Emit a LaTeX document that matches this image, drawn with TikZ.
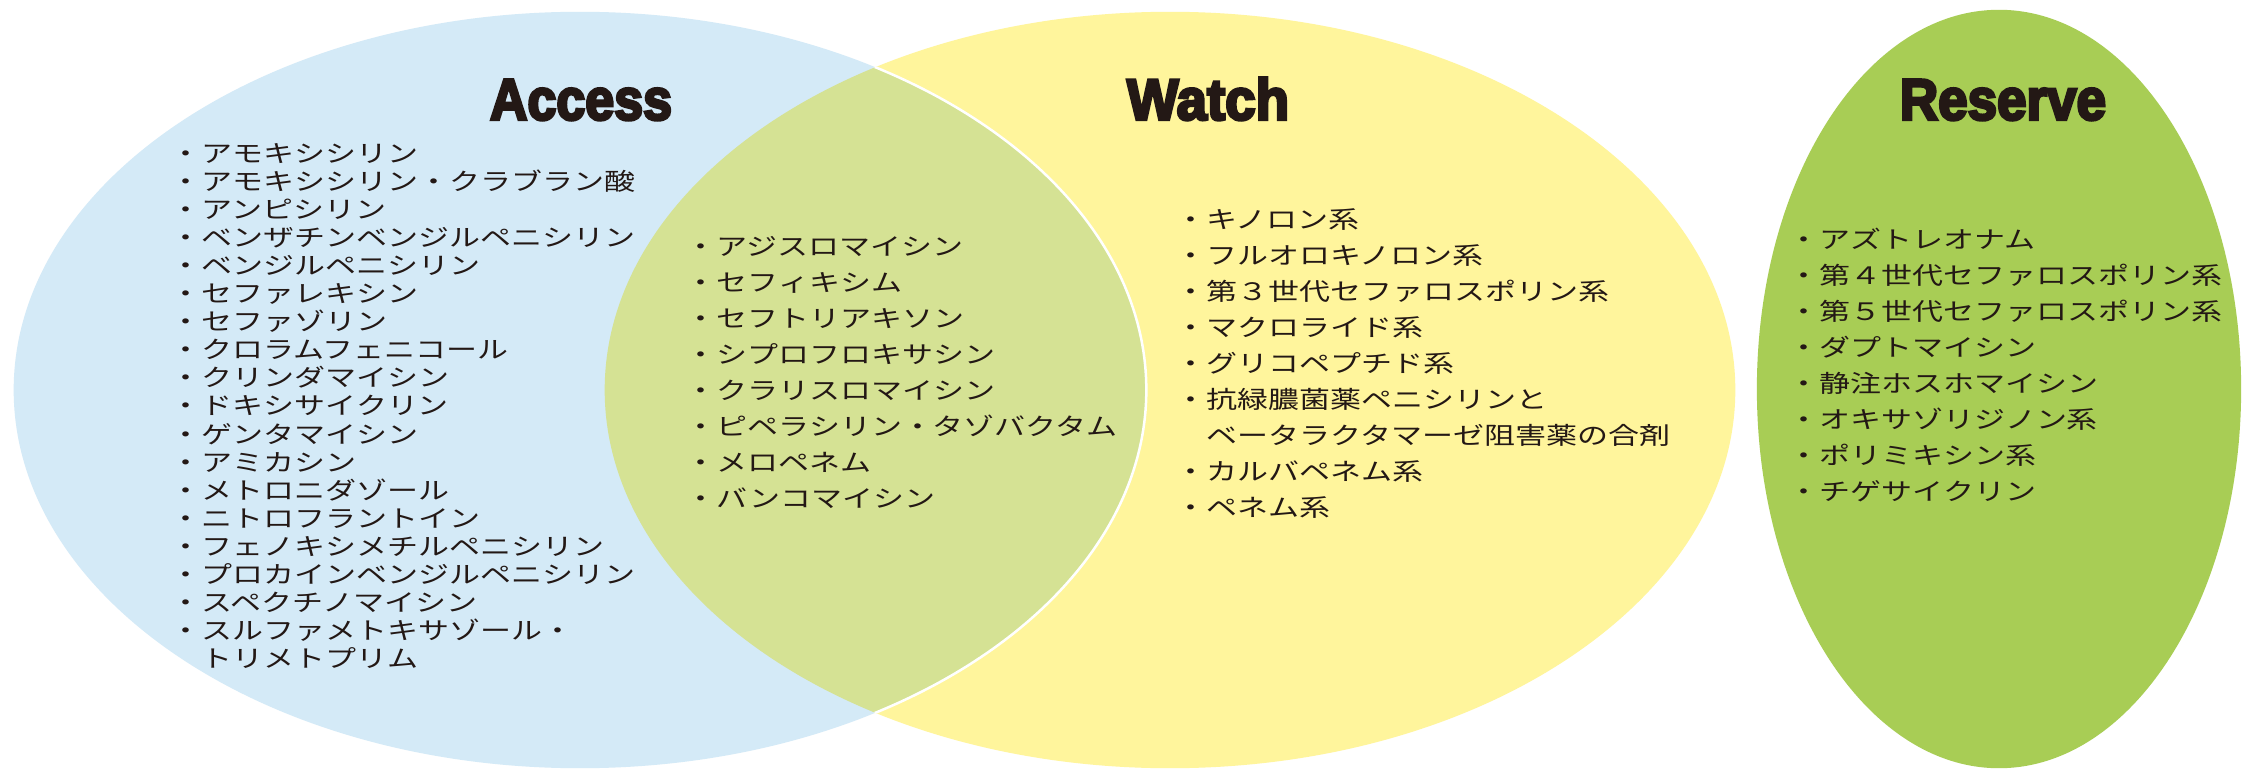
\documentclass[tikz,border=0pt]{standalone}
\usepackage{fontspec}
\usepackage{graphicx}
\newfontfamily\jp{Noto Sans CJK JP}[FakeStretch=1.29]
\newfontfamily\headfont{Liberation Sans}[BoldFeatures={FakeBold=5}]
\definecolor{bluec}{HTML}{D4EAF7}
\definecolor{yellowc}{HTML}{FFF59C}
\definecolor{overc}{HTML}{D5E294}
\definecolor{resc}{HTML}{A8CD55}
\definecolor{txt}{HTML}{231815}
\tikzset{
  item/.style={anchor=west, inner sep=0pt, text=txt,
    font=\jp\fontsize{6.83pt}{8pt}\selectfont, text height=0.21cm, text depth=0.03cm},
  heading/.style={anchor=center, inner sep=0pt, text=txt}
}
\begin{document}
\begin{tikzpicture}[x=0.01cm, y=-0.01cm]
\useasboundingbox (0,0) rectangle (2242,770);
\fill[white] (0,0) rectangle (2242,770);
% ellipses
\fill[yellowc] (1170,390) ellipse [x radius=5.65cm, y radius=3.78cm];
\fill[bluec] (580,390) ellipse [x radius=5.66cm, y radius=3.78cm];
\begin{scope}
  \clip (580,390) ellipse [x radius=5.66cm, y radius=3.78cm];
  \fill[overc] (1170,390) ellipse [x radius=5.65cm, y radius=3.78cm];
\end{scope}
\begin{scope}
  \clip (1170,390) ellipse [x radius=5.65cm, y radius=3.78cm];
  \draw[white, line width=0.025cm] (580,390) ellipse [x radius=5.66cm, y radius=3.78cm];
\end{scope}
\fill[resc] (1999,389) ellipse [x radius=2.42cm, y radius=3.79cm];
% headings
\node[heading] (hAccess) at (581,100) {\resizebox{1.82cm}{0.40cm}{\headfont\bfseries Access}};
\node[heading] (hWatch) at (1208,99) {\resizebox{1.62cm}{0.42cm}{\headfont\bfseries Watch}};
\node[heading] (hReserve) at (2003,100) {\resizebox{2.06cm}{0.40cm}{\headfont\bfseries Reserve}};
% Access list
\foreach \t [count=\i] in {・アモキシシリン,・アモキシシリン・クラブラン酸,・アンピシリン,・ベンザチンベンジルペニシリン,・ベンジルペニシリン,・セファレキシン,・セファゾリン,・クロラムフェニコール,・クリンダマイシン,・ドキシサイクリン,・ゲンタマイシン,・アミカシン,・メトロニダゾール,・ニトロフラントイン,・フェノキシメチルペニシリン,・プロカインベンジルペニシリン,・スペクチノマイシン,・スルファメトキサゾール・,　トリメトプリム}
  \node[item] (acc\i) at (170,{153+28.1*(\i-1)}) {\t};
% Overlap list
\foreach \t [count=\i] in {・アジスロマイシン,・セフィキシム,・セフトリアキソン,・シプロフロキサシン,・クラリスロマイシン,・ピペラシリン・タゾバクタム,・メロペネム,・バンコマイシン}
  \node[item] (ov\i) at (685,{246+36.1*(\i-1)}) {\t};
% Watch list
\foreach \t [count=\i] in {・キノロン系,・フルオロキノロン系,・第３世代セファロスポリン系,・マクロライド系,・グリコペプチド系,・抗緑膿菌薬ペニシリンと,　ベータラクタマーゼ阻害薬の合剤,・カルバペネム系,・ペネム系}
  \node[item] (wa\i) at (1175,{219+36.1*(\i-1)}) {\t};
% Reserve list
\foreach \t [count=\i] in {・アズトレオナム,・第４世代セファロスポリン系,・第５世代セファロスポリン系,・ダプトマイシン,・静注ホスホマイシン,・オキサゾリジノン系,・ポリミキシン系,・チゲサイクリン}
  \node[item] (re\i) at (1788,{239+36.1*(\i-1)}) {\t};
\end{tikzpicture}
\end{document}
